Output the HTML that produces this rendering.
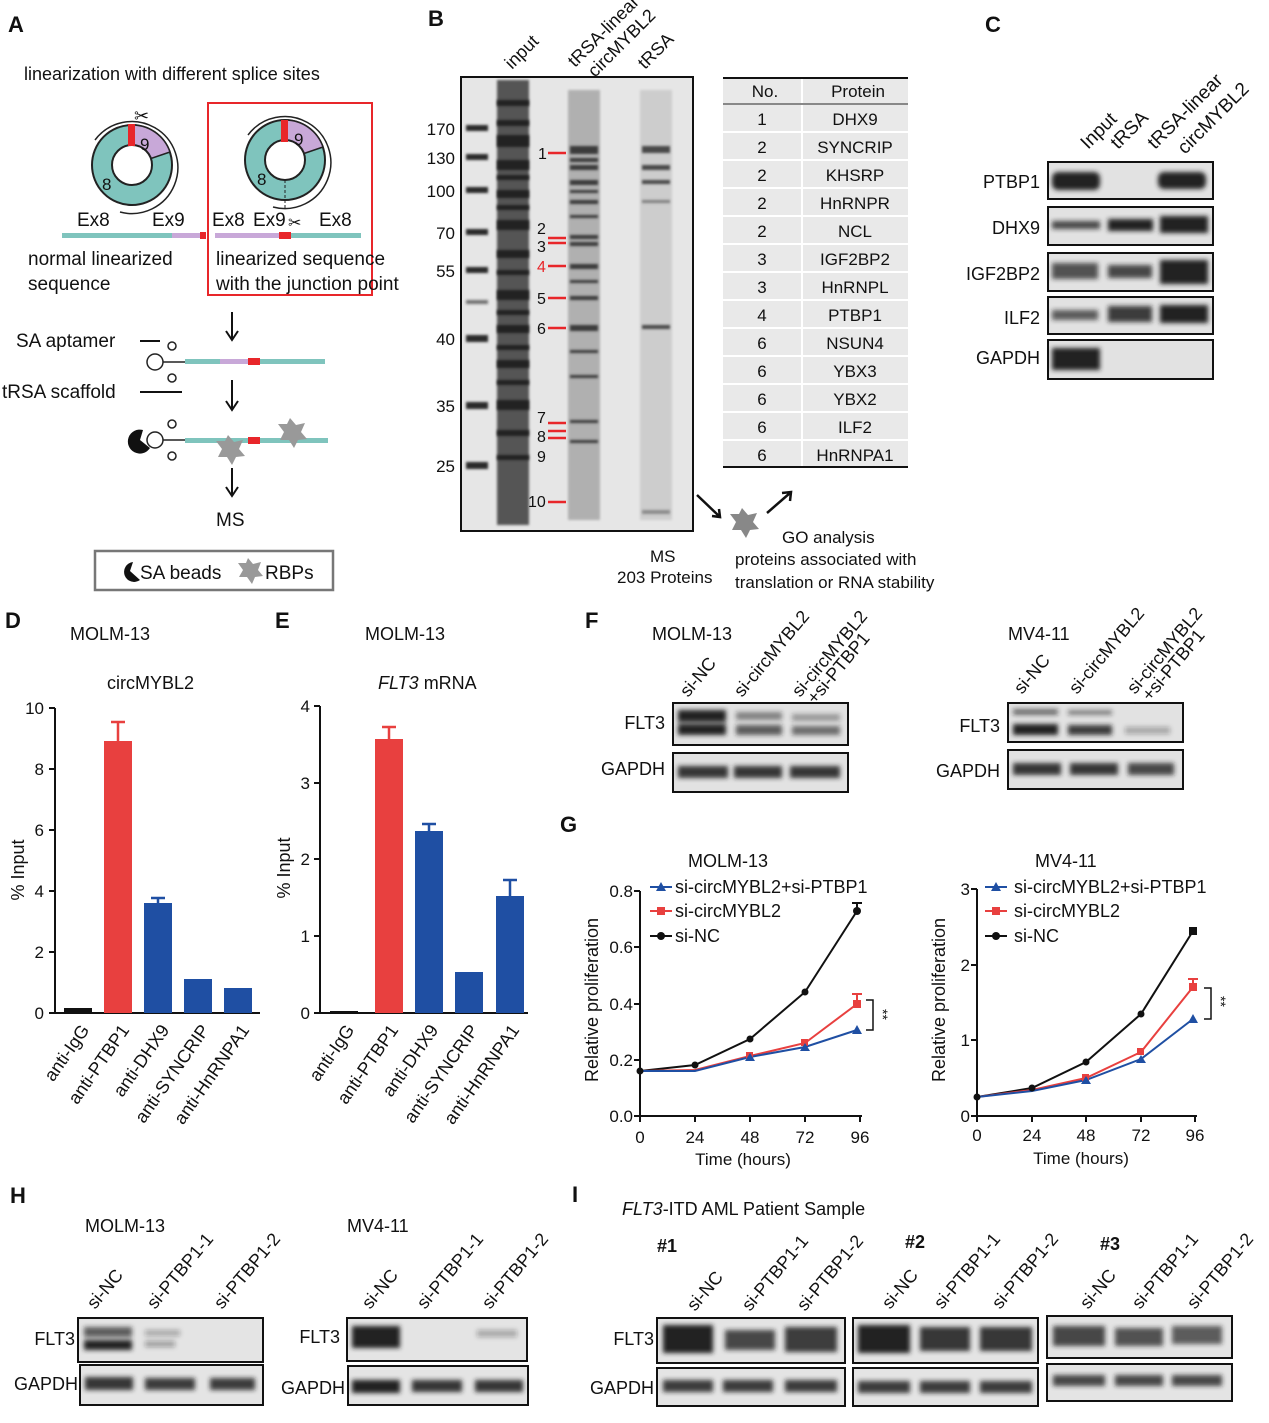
<!DOCTYPE html>
<html><head><meta charset="utf-8"><style>
body{margin:0;background:#fff}
svg{display:block;font-family:"Liberation Sans",Arial,sans-serif}
</style></head><body>
<svg width="1269" height="1423" viewBox="0 0 1269 1423" xmlns="http://www.w3.org/2000/svg">
<defs>
<filter id="bl" x="-20%" y="-50%" width="140%" height="200%"><feGaussianBlur stdDeviation="2.5"/></filter>
<filter id="bl2"><feGaussianBlur stdDeviation="1.2"/></filter>
</defs>
<g font-size="19" fill="#111">
<g font-weight="bold" font-size="22">
<text x="8" y="32">A</text><text x="428" y="26">B</text><text x="985" y="32">C</text>
<text x="5" y="628">D</text><text x="275" y="628">E</text><text x="585" y="628">F</text>
<text x="560" y="832">G</text><text x="10" y="1203">H</text><text x="572" y="1202">I</text>
</g>

<!-- Panel A -->
<text x="24" y="80" font-size="18">linearization with different splice sites</text>
<g>
<circle cx="132" cy="165" r="40" fill="#7fc4bd" stroke="#222" stroke-width="2"/>
<path d="M132 165 L132 125 A40 40 0 0 1 170 152 Z" fill="#c8a8d8" stroke="#222" stroke-width="1.5"/>
<circle cx="132" cy="165" r="20" fill="#fff" stroke="#222" stroke-width="2"/>
<path d="M95 140 A46 46 0 1 1 120 212" fill="none" stroke="#222" stroke-width="1.5"/>
<rect x="128" y="124" width="7" height="22" fill="#e8262a"/>
<text x="140" y="150" font-size="17">9</text><text x="102" y="190" font-size="17">8</text>
<text x="134" y="122" font-size="18">✂</text>
<circle cx="285" cy="160" r="40" fill="#7fc4bd" stroke="#222" stroke-width="2"/>
<path d="M285 160 L285 120 A40 40 0 0 1 323 147 L285 160" fill="#c8a8d8" stroke="#222" stroke-width="1.5"/>
<circle cx="285" cy="160" r="20" fill="#fff" stroke="#222" stroke-width="2"/>
<path d="M248 135 A46 46 0 1 1 273 207" fill="none" stroke="#222" stroke-width="1.5"/>
<rect x="281" y="120" width="7" height="22" fill="#e8262a"/>
<text x="294" y="145" font-size="17">9</text><text x="257" y="185" font-size="17">8</text>
<line x1="285" y1="180" x2="285" y2="210" stroke="#222" stroke-dasharray="3,2"/>
<text x="288" y="228" font-size="16">✂</text>
</g>
<text x="77" y="226">Ex8</text><text x="152" y="226">Ex9</text>
<text x="212" y="226">Ex8</text><text x="253" y="226">Ex9</text><text x="319" y="226">Ex8</text>
<rect x="62" y="233" width="110" height="5" fill="#7fc4bd"/><rect x="172" y="233" width="28" height="5" fill="#c8a8d8"/><rect x="200" y="232" width="6" height="7" fill="#e8262a"/>
<rect x="215" y="233" width="65" height="5" fill="#c8a8d8"/><rect x="279" y="232" width="12" height="7" fill="#e8262a"/><rect x="291" y="233" width="70" height="5" fill="#7fc4bd"/>
<rect x="208" y="103" width="164" height="192" fill="none" stroke="#e8262a" stroke-width="2"/>
<text x="28" y="265">normal linearized</text><text x="28" y="290">sequence</text>
<text x="216" y="265">linearized sequence</text><text x="216" y="290">with the junction point</text>
<path d="M232 312 V338 M226 331 L232 340 L238 331" stroke="#111" stroke-width="2" fill="none"/>
<text x="16" y="347">SA aptamer</text><line x1="140" y1="341" x2="160" y2="341" stroke="#111" stroke-width="2"/>
<text x="2" y="398">tRSA scaffold</text><line x1="140" y1="392" x2="182" y2="392" stroke="#111" stroke-width="2"/>
<g fill="none" stroke="#222" stroke-width="1.5">
<circle cx="155" cy="362" r="8"/><circle cx="172" cy="346" r="4"/><circle cx="172" cy="378" r="4"/><path d="M163 362 H185"/>
<circle cx="155" cy="440" r="8"/><circle cx="172" cy="424" r="4"/><circle cx="172" cy="456" r="4"/><path d="M163 440 H185"/>
</g>
<rect x="185" y="359" width="140" height="5" fill="#7fc4bd"/><rect x="220" y="359" width="28" height="5" fill="#c8a8d8"/><rect x="248" y="358" width="12" height="7" fill="#e8262a"/>
<path d="M232 380 V408 M226 401 L232 410 L238 401" stroke="#111" stroke-width="2" fill="none"/>
<rect x="185" y="438" width="143" height="5" fill="#7fc4bd"/><rect x="248" y="437" width="12" height="7" fill="#e8262a"/>
<path d="M143 430 A12 12 0 1 0 150 448 L140 440 Z" fill="#111"/>
<polygon points="228,435 234,442 243,440 239,449 245,456 236,457 232,465 227,457 218,457 222,449 216,441 225,441" fill="#999"/>
<polygon points="290,418 296,425 305,423 301,432 307,439 298,440 294,448 289,440 280,440 284,432 278,424 287,424" fill="#999"/>
<path d="M232 468 V494 M226 487 L232 496 L238 487" stroke="#111" stroke-width="2" fill="none"/>
<text x="216" y="526">MS</text>
<rect x="95" y="551" width="238" height="39" fill="none" stroke="#777" stroke-width="2.5"/>
<path d="M133 562 A10 10 0 1 0 140 580 L130 571 Z" fill="#111"/>
<text x="140" y="579">SA beads</text>
<polygon points="248,558 253,564 261,562 258,570 263,576 255,577 252,584 247,577 239,577 243,570 238,563 246,563" fill="#999"/>
<text x="265" y="579">RBPs</text>

<!-- Panel B -->
<g font-size="18">
<text transform="translate(512,70) rotate(-45)">input</text>
<text transform="translate(575,68) rotate(-45)">tRSA-linear</text>
<text transform="translate(595,78) rotate(-45)">circMYBL2</text>
<text transform="translate(645,70) rotate(-45)">tRSA</text>
</g>
<rect x="461" y="77" width="232" height="454" fill="#e6e6e6" stroke="#111" stroke-width="2"/>
<g fill="#2a2a2a" filter="url(#bl2)">
<rect x="466" y="125" width="22" height="6"/><rect x="466" y="154" width="22" height="6"/><rect x="466" y="187" width="22" height="6"/>
<rect x="466" y="229" width="22" height="6"/><rect x="466" y="267" width="22" height="6"/><rect x="466" y="335" width="22" height="7"/>
<rect x="466" y="402" width="22" height="7"/><rect x="466" y="462" width="22" height="7"/><rect x="466" y="300" width="22" height="4" opacity=".6"/>
</g>
<rect x="497" y="80" width="32" height="445" fill="#555" filter="url(#bl2)"/>
<g fill="#222" filter="url(#bl2)">
<rect x="497" y="100" width="32" height="6"/><rect x="497" y="120" width="32" height="6"/><rect x="497" y="135" width="32" height="12"/><rect x="497" y="160" width="32" height="10"/><rect x="497" y="175" width="32" height="5"/><rect x="497" y="190" width="32" height="8"/><rect x="497" y="205" width="32" height="5"/><rect x="497" y="220" width="32" height="10"/><rect x="497" y="250" width="32" height="8"/><rect x="497" y="270" width="32" height="5"/><rect x="497" y="290" width="32" height="10"/><rect x="497" y="310" width="32" height="5"/><rect x="497" y="325" width="32" height="8"/><rect x="497" y="345" width="32" height="5"/><rect x="497" y="360" width="32" height="8"/><rect x="497" y="380" width="32" height="5"/><rect x="497" y="400" width="32" height="10"/><rect x="497" y="430" width="32" height="6"/><rect x="497" y="455" width="32" height="5"/>
</g>
<rect x="568" y="90" width="32" height="430" fill="#b0b0b0" filter="url(#bl2)"/>
<g fill="#3a3a3a" filter="url(#bl2)">
<rect x="570" y="146" width="28" height="8"/><rect x="570" y="158" width="28" height="4"/><rect x="570" y="165" width="28" height="5"/><rect x="570" y="180" width="28" height="5"/><rect x="570" y="190" width="28" height="3"/><rect x="570" y="200" width="28" height="4"/><rect x="570" y="215" width="28" height="3"/>
<rect x="570" y="235" width="28" height="4"/><rect x="570" y="242" width="28" height="4"/><rect x="570" y="264" width="28" height="5"/><rect x="570" y="280" width="28" height="3"/><rect x="570" y="296" width="28" height="4"/><rect x="570" y="325" width="28" height="6"/><rect x="570" y="350" width="28" height="3"/><rect x="570" y="375" width="28" height="3"/><rect x="570" y="420" width="28" height="3"/><rect x="570" y="440" width="28" height="3"/>
</g>
<rect x="640" y="90" width="32" height="430" fill="#cdcdcd" filter="url(#bl2)"/>
<g fill="#4a4a4a" filter="url(#bl2)">
<rect x="642" y="146" width="28" height="7"/><rect x="642" y="165" width="28" height="5"/><rect x="642" y="180" width="28" height="4"/><rect x="642" y="200" width="28" height="3" opacity=".6"/><rect x="642" y="325" width="28" height="4"/><rect x="642" y="510" width="28" height="4" opacity=".5"/>
</g>
<g font-size="17" text-anchor="end">
<text x="455" y="135">170</text><text x="455" y="164">130</text><text x="455" y="197">100</text><text x="455" y="239">70</text>
<text x="455" y="277">55</text><text x="455" y="345">40</text><text x="455" y="412">35</text><text x="455" y="472">25</text>
</g>
<g font-size="16"><text x="538" y="159">1</text><text x="537" y="234">2</text><text x="537" y="252">3</text><text x="537" y="272" fill="#e8262a">4</text>
<text x="537" y="304">5</text><text x="537" y="334">6</text><text x="537" y="423">7</text><text x="537" y="442">8</text><text x="537" y="462">9</text><text x="528" y="507">10</text></g>
<g stroke="#e8262a" stroke-width="2.5"><path d="M548 153 H566 M548 238 H566 M548 243 H566 M548 266 H566 M548 298 H566 M548 328 H566 M548 423 H566 M548 431 H566 M548 438 H566 M548 502 H566"/></g>
<rect x="723" y="78" width="185" height="389" fill="#e9e9e9"/>
<g stroke="#fff" stroke-width="2"><line x1="802" y1="78" x2="802" y2="467"/>
<path d="M723 104H908M723 132H908M723 160H908M723 188H908M723 216H908M723 244H908M723 272H908M723 300H908M723 328H908M723 356H908M723 384H908M723 412H908M723 440H908"/></g>
<line x1="723" y1="78" x2="908" y2="78" stroke="#111" stroke-width="2"/><line x1="723" y1="104" x2="908" y2="104" stroke="#111" stroke-width="1"/><line x1="723" y1="467" x2="908" y2="467" stroke="#111" stroke-width="2"/>
<g font-size="17" text-anchor="middle">
<text x="765" y="97">No.</text><text x="858" y="97">Protein</text>
<text x="762" y="125">1</text><text x="855" y="125">DHX9</text>
<text x="762" y="153">2</text><text x="855" y="153">SYNCRIP</text>
<text x="762" y="181">2</text><text x="855" y="181">KHSRP</text>
<text x="762" y="209">2</text><text x="855" y="209">HnRNPR</text>
<text x="762" y="237">2</text><text x="855" y="237">NCL</text>
<text x="762" y="265">3</text><text x="855" y="265">IGF2BP2</text>
<text x="762" y="293">3</text><text x="855" y="293">HnRNPL</text>
<text x="762" y="321">4</text><text x="855" y="321">PTBP1</text>
<text x="762" y="349">6</text><text x="855" y="349">NSUN4</text>
<text x="762" y="377">6</text><text x="855" y="377">YBX3</text>
<text x="762" y="405">6</text><text x="855" y="405">YBX2</text>
<text x="762" y="433">6</text><text x="855" y="433">ILF2</text>
<text x="762" y="461">6</text><text x="855" y="461">HnRNPA1</text>
</g>
<path d="M697 495 L720 517 M712 516 L720 517 L719 509" stroke="#111" stroke-width="2.5" fill="none"/>
<path d="M767 513 L790 493 M782 493 L791 492 L790 501" stroke="#111" stroke-width="2.5" fill="none"/>
<polygon points="742,508 748,515 757,513 753,522 759,529 750,530 746,538 741,530 732,530 736,522 730,514 739,514" fill="#888"/>
<g font-size="17"><text x="650" y="562">MS</text><text x="617" y="583">203 Proteins</text>
<text x="782" y="543">GO analysis</text><text x="735" y="565">proteins associated with</text><text x="735" y="588">translation or RNA stability</text></g>

<!-- Panel C -->
<g font-size="19">
<text transform="translate(1088,150) rotate(-45)">Input</text>
<text transform="translate(1118,150) rotate(-45)">tRSA</text>
<text transform="translate(1155,150) rotate(-45)">tRSA-linear</text>
<text transform="translate(1185,155) rotate(-45)">circMYBL2</text>
</g>
<g font-size="18" text-anchor="end"><text x="1040" y="188">PTBP1</text><text x="1040" y="234">DHX9</text><text x="1040" y="280">IGF2BP2</text><text x="1040" y="324">ILF2</text><text x="1040" y="364">GAPDH</text></g>
<g stroke="#111" stroke-width="2" fill="#e2e2e2">
<rect x="1048" y="162" width="165" height="37"/><rect x="1048" y="207" width="165" height="38"/><rect x="1048" y="253" width="165" height="38"/><rect x="1048" y="297" width="165" height="37"/><rect x="1048" y="340" width="165" height="39"/>
</g>
<g fill="#222" filter="url(#bl)">
<rect x="1052" y="172" width="48" height="18" rx="6"/><rect x="1158" y="172" width="48" height="17" rx="6"/>
<rect x="1052" y="221" width="48" height="8" opacity=".8"/><rect x="1108" y="219" width="45" height="12"/><rect x="1160" y="216" width="48" height="17"/>
<rect x="1052" y="263" width="46" height="16" opacity=".75"/><rect x="1108" y="265" width="44" height="13" opacity=".8"/><rect x="1160" y="260" width="48" height="24"/>
<rect x="1052" y="310" width="46" height="10" opacity=".7"/><rect x="1108" y="306" width="44" height="16" opacity=".85"/><rect x="1160" y="305" width="48" height="18"/>
<rect x="1052" y="348" width="48" height="22"/>
</g>

<!-- Panel D -->
<text x="70" y="640" font-size="18">MOLM-13</text>
<text x="107" y="689" font-size="18">circMYBL2</text>
<g stroke="#111" stroke-width="2" fill="none"><path d="M55 708 V1013 H260"/>
<path d="M49 708H55M49 769H55M49 830H55M49 891H55M49 952H55M49 1013H55"/></g>
<g font-size="17" text-anchor="end"><text x="44" y="714">10</text><text x="44" y="775">8</text><text x="44" y="836">6</text><text x="44" y="897">4</text><text x="44" y="958">2</text><text x="44" y="1019">0</text></g>
<text transform="translate(24,870) rotate(-90)" text-anchor="middle" font-size="18">% Input</text>
<rect x="64" y="1008" width="28" height="5" fill="#111"/>
<rect x="104" y="741" width="28" height="272" fill="#e8403f"/><path d="M118 741V722M111 722H125" stroke="#e8403f" stroke-width="2.5"/>
<rect x="144" y="903" width="28" height="110" fill="#1f4fa3"/><path d="M158 903V898M151 898H165" stroke="#1f4fa3" stroke-width="2.5"/>
<rect x="184" y="979" width="28" height="34" fill="#1f4fa3"/>
<rect x="224" y="988" width="28" height="25" fill="#1f4fa3"/>
<g font-size="18" text-anchor="end">
<text transform="translate(90,1030) rotate(-55)">anti-IgG</text>
<text transform="translate(130,1030) rotate(-55)">anti-PTBP1</text>
<text transform="translate(170,1030) rotate(-55)">anti-DHX9</text>
<text transform="translate(210,1030) rotate(-55)">anti-SYNCRIP</text>
<text transform="translate(250,1030) rotate(-55)">anti-HnRNPA1</text>
</g>

<!-- Panel E -->
<text x="365" y="640" font-size="18">MOLM-13</text>
<text x="378" y="689" font-size="18"><tspan font-style="italic">FLT3</tspan> mRNA</text>
<g stroke="#111" stroke-width="2" fill="none"><path d="M320 706 V1013 H528"/>
<path d="M314 706H320M314 783H320M314 859H320M314 936H320M314 1013H320"/></g>
<g font-size="17" text-anchor="end"><text x="310" y="712">4</text><text x="310" y="789">3</text><text x="310" y="865">2</text><text x="310" y="942">1</text><text x="310" y="1019">0</text></g>
<text transform="translate(290,868) rotate(-90)" text-anchor="middle" font-size="18">% Input</text>
<rect x="330" y="1011" width="28" height="2" fill="#111"/>
<rect x="375" y="739" width="28" height="274" fill="#e8403f"/><path d="M389 739V727M382 727H396" stroke="#e8403f" stroke-width="2.5"/>
<rect x="415" y="831" width="28" height="182" fill="#1f4fa3"/><path d="M429 831V824M422 824H436" stroke="#1f4fa3" stroke-width="2.5"/>
<rect x="455" y="972" width="28" height="41" fill="#1f4fa3"/>
<rect x="496" y="896" width="28" height="117" fill="#1f4fa3"/><path d="M510 896V880M503 880H517" stroke="#1f4fa3" stroke-width="2.5"/>
<g font-size="18" text-anchor="end">
<text transform="translate(355,1030) rotate(-55)">anti-IgG</text>
<text transform="translate(399,1030) rotate(-55)">anti-PTBP1</text>
<text transform="translate(439,1030) rotate(-55)">anti-DHX9</text>
<text transform="translate(479,1030) rotate(-55)">anti-SYNCRIP</text>
<text transform="translate(520,1030) rotate(-55)">anti-HnRNPA1</text>
</g>

<!-- Panel F -->
<text x="652" y="640" font-size="18">MOLM-13</text><text x="1008" y="640" font-size="18">MV4-11</text>
<g font-size="18">
<text transform="translate(688,698) rotate(-50)">si-NC</text>
<text transform="translate(742,698) rotate(-50)">si-circMYBL2</text>
<text transform="translate(800,698) rotate(-50)">si-circMYBL2</text>
<text transform="translate(815,705) rotate(-50)">+si-PTBP1</text>
<text transform="translate(1022,695) rotate(-50)">si-NC</text>
<text transform="translate(1077,695) rotate(-50)">si-circMYBL2</text>
<text transform="translate(1135,695) rotate(-50)">si-circMYBL2</text>
<text transform="translate(1150,702) rotate(-50)">+si-PTBP1</text>
</g>
<g font-size="18" text-anchor="end"><text x="665" y="729">FLT3</text><text x="665" y="775">GAPDH</text><text x="1000" y="732">FLT3</text><text x="1000" y="777">GAPDH</text></g>
<g stroke="#111" stroke-width="2" fill="#e2e2e2">
<rect x="673" y="703" width="175" height="42"/><rect x="673" y="753" width="175" height="39"/>
<rect x="1008" y="703" width="175" height="39"/><rect x="1008" y="750" width="175" height="39"/>
</g>
<g fill="#222" filter="url(#bl)">
<rect x="678" y="710" width="48" height="12"/><rect x="678" y="724" width="48" height="11"/>
<rect x="736" y="712" width="46" height="8" opacity=".5"/><rect x="736" y="725" width="46" height="10" opacity=".7"/>
<rect x="792" y="714" width="48" height="7" opacity=".4"/><rect x="792" y="726" width="48" height="9" opacity=".6"/>
<rect x="678" y="766" width="50" height="12" opacity=".9"/><rect x="734" y="766" width="48" height="12" opacity=".9"/><rect x="790" y="766" width="50" height="12" opacity=".9"/>
<rect x="1013" y="709" width="45" height="6" opacity=".6"/><rect x="1013" y="724" width="45" height="11"/>
<rect x="1068" y="710" width="44" height="5" opacity=".5"/><rect x="1068" y="725" width="44" height="10" opacity=".85"/>
<rect x="1125" y="727" width="45" height="7" opacity=".3"/>
<rect x="1013" y="763" width="48" height="12" opacity=".9"/><rect x="1070" y="763" width="48" height="12" opacity=".9"/><rect x="1128" y="763" width="46" height="12" opacity=".8"/>
</g>

<!-- Panel G MOLM-13 -->
<text x="688" y="867" font-size="18">MOLM-13</text>
<g stroke="#111" stroke-width="2" fill="none"><path d="M640 891 V1116 H862"/>
<path d="M634 891H640M634 947H640M634 1004H640M634 1060H640M634 1116H640M640 1116V1122M695 1116V1122M750 1116V1122M805 1116V1122M860 1116V1122"/></g>
<g font-size="17" text-anchor="end"><text x="633" y="897">0.8</text><text x="633" y="953">0.6</text><text x="633" y="1010">0.4</text><text x="633" y="1066">0.2</text><text x="633" y="1122">0.0</text></g>
<g font-size="17" text-anchor="middle"><text x="640" y="1143">0</text><text x="695" y="1143">24</text><text x="750" y="1143">48</text><text x="805" y="1143">72</text><text x="860" y="1143">96</text><text x="743" y="1165">Time (hours)</text></g>
<text transform="translate(598,1000) rotate(-90)" text-anchor="middle" font-size="18">Relative proliferation</text>
<polyline points="640,1071 695,1065 750,1039 805,992 857,911" fill="none" stroke="#111" stroke-width="2"/>
<polyline points="640,1071 695,1070 750,1056 805,1043 857,1004" fill="none" stroke="#e8403f" stroke-width="2"/>
<polyline points="640,1071 695,1071 750,1057 805,1047 857,1030" fill="none" stroke="#1f4fa3" stroke-width="2"/>
<g fill="#111"><circle cx="640" cy="1071" r="3.5"/><circle cx="695" cy="1065" r="3.5"/><circle cx="750" cy="1039" r="3.5"/><circle cx="805" cy="992" r="3.5"/><circle cx="857" cy="911" r="4"/></g>
<path d="M857 911V903M852 903H862" stroke="#111" stroke-width="2"/>
<g fill="#e8403f"><rect x="853" y="1000" width="8" height="8"/><rect x="801" y="1039" width="7" height="7"/><rect x="746" y="1052" width="7" height="7"/></g>
<path d="M857 1004V994M852 994H862" stroke="#e8403f" stroke-width="2"/>
<g fill="#1f4fa3"><polygon points="857,1025 862,1034 852,1034"/><polygon points="805,1043 810,1051 800,1051"/><polygon points="750,1053 755,1061 745,1061"/></g>
<path d="M866 1000H873V1030H866" stroke="#111" stroke-width="1.5" fill="none"/><text transform="translate(878,1009) rotate(90)" font-size="14">**</text>
<g font-size="18">
<line x1="650" y1="887" x2="672" y2="887" stroke="#1f4fa3" stroke-width="2"/><polygon points="661,882 666,891 656,891" fill="#1f4fa3"/><text x="675" y="893">si-circMYBL2+si-PTBP1</text>
<line x1="650" y1="911" x2="672" y2="911" stroke="#e8403f" stroke-width="2"/><rect x="657" y="907" width="8" height="8" fill="#e8403f"/><text x="675" y="917">si-circMYBL2</text>
<line x1="650" y1="936" x2="672" y2="936" stroke="#111" stroke-width="2"/><circle cx="661" cy="936" r="4" fill="#111"/><text x="675" y="942">si-NC</text>
</g>

<!-- Panel G MV4-11 -->
<text x="1035" y="867" font-size="18">MV4-11</text>
<g stroke="#111" stroke-width="2" fill="none"><path d="M977 889 V1116 H1197"/>
<path d="M971 889H977M971 965H977M971 1040H977M971 1116H977M977 1116V1122M1032 1116V1122M1086 1116V1122M1141 1116V1122M1195 1116V1122"/></g>
<g font-size="17" text-anchor="end"><text x="970" y="895">3</text><text x="970" y="971">2</text><text x="970" y="1046">1</text><text x="970" y="1122">0</text></g>
<g font-size="17" text-anchor="middle"><text x="977" y="1141">0</text><text x="1032" y="1141">24</text><text x="1086" y="1141">48</text><text x="1141" y="1141">72</text><text x="1195" y="1141">96</text><text x="1081" y="1164">Time (hours)</text></g>
<text transform="translate(945,1000) rotate(-90)" text-anchor="middle" font-size="18">Relative proliferation</text>
<polyline points="977,1097 1032,1088 1086,1062 1141,1014 1193,931" fill="none" stroke="#111" stroke-width="2"/>
<polyline points="977,1097 1032,1090 1086,1078 1141,1052 1193,987" fill="none" stroke="#e8403f" stroke-width="2"/>
<polyline points="977,1097 1032,1091 1086,1080 1141,1059 1193,1019" fill="none" stroke="#1f4fa3" stroke-width="2"/>
<g fill="#111"><circle cx="977" cy="1097" r="3.5"/><circle cx="1032" cy="1088" r="3.5"/><circle cx="1086" cy="1062" r="3.5"/><circle cx="1141" cy="1014" r="3.5"/><rect x="1189" y="927" width="8" height="8"/></g>
<g fill="#e8403f"><rect x="1189" y="983" width="8" height="8"/><rect x="1137" y="1048" width="7" height="7"/><rect x="1082" y="1074" width="7" height="7"/></g>
<path d="M1193 987V979M1188 979H1198" stroke="#e8403f" stroke-width="2"/>
<g fill="#1f4fa3"><polygon points="1193,1014 1198,1023 1188,1023"/><polygon points="1141,1055 1146,1063 1136,1063"/><polygon points="1086,1076 1091,1084 1081,1084"/></g>
<path d="M1204 988H1211V1019H1204" stroke="#111" stroke-width="1.5" fill="none"/><text transform="translate(1216,996) rotate(90)" font-size="14">**</text>
<g font-size="18">
<line x1="985" y1="887" x2="1007" y2="887" stroke="#1f4fa3" stroke-width="2"/><polygon points="996,882 1001,891 991,891" fill="#1f4fa3"/><text x="1014" y="893">si-circMYBL2+si-PTBP1</text>
<line x1="985" y1="911" x2="1007" y2="911" stroke="#e8403f" stroke-width="2"/><rect x="992" y="907" width="8" height="8" fill="#e8403f"/><text x="1014" y="917">si-circMYBL2</text>
<line x1="985" y1="936" x2="1007" y2="936" stroke="#111" stroke-width="2"/><circle cx="996" cy="936" r="4" fill="#111"/><text x="1014" y="942">si-NC</text>
</g>

<!-- Panel H -->
<text x="85" y="1232" font-size="18">MOLM-13</text><text x="347" y="1232" font-size="18">MV4-11</text>
<g font-size="18">
<text transform="translate(95,1310) rotate(-50)">si-NC</text>
<text transform="translate(155,1310) rotate(-50)">si-PTBP1-1</text>
<text transform="translate(222,1310) rotate(-50)">si-PTBP1-2</text>
<text transform="translate(370,1310) rotate(-50)">si-NC</text>
<text transform="translate(425,1310) rotate(-50)">si-PTBP1-1</text>
<text transform="translate(490,1310) rotate(-50)">si-PTBP1-2</text>
</g>
<g font-size="18" text-anchor="end"><text x="75" y="1345">FLT3</text><text x="78" y="1390">GAPDH</text><text x="340" y="1343">FLT3</text><text x="345" y="1394">GAPDH</text></g>
<g stroke="#111" stroke-width="2" fill="#e4e4e4">
<rect x="78" y="1318" width="185" height="44"/><rect x="80" y="1365" width="183" height="40"/>
<rect x="347" y="1318" width="180" height="43"/><rect x="348" y="1366" width="180" height="39"/>
</g>
<g fill="#222" filter="url(#bl)">
<rect x="84" y="1327" width="48" height="10" opacity=".7"/><rect x="84" y="1340" width="48" height="10"/>
<rect x="145" y="1330" width="35" height="6" opacity=".3"/><rect x="145" y="1341" width="30" height="6" opacity=".35"/>
<rect x="85" y="1377" width="48" height="13" opacity=".9"/><rect x="145" y="1378" width="50" height="12" opacity=".85"/><rect x="210" y="1378" width="45" height="12" opacity=".85"/>
<rect x="352" y="1326" width="48" height="22"/><rect x="477" y="1330" width="40" height="7" opacity=".3"/>
<rect x="352" y="1380" width="48" height="13"/><rect x="412" y="1380" width="50" height="12" opacity=".9"/><rect x="475" y="1380" width="48" height="12" opacity=".9"/>
</g>

<!-- Panel I -->
<text x="622" y="1215" font-size="18"><tspan font-style="italic">FLT3</tspan>-ITD AML Patient Sample</text>
<g font-size="18" font-weight="bold"><text x="657" y="1252">#1</text><text x="905" y="1248">#2</text><text x="1100" y="1250">#3</text></g>
<g font-size="18">
<text transform="translate(695,1312) rotate(-50)">si-NC</text>
<text transform="translate(750,1312) rotate(-50)">si-PTBP1-1</text>
<text transform="translate(805,1312) rotate(-50)">si-PTBP1-2</text>
<text transform="translate(890,1310) rotate(-50)">si-NC</text>
<text transform="translate(942,1310) rotate(-50)">si-PTBP1-1</text>
<text transform="translate(1000,1310) rotate(-50)">si-PTBP1-2</text>
<text transform="translate(1088,1310) rotate(-50)">si-NC</text>
<text transform="translate(1140,1310) rotate(-50)">si-PTBP1-1</text>
<text transform="translate(1195,1310) rotate(-50)">si-PTBP1-2</text>
</g>
<g font-size="18" text-anchor="end"><text x="654" y="1345">FLT3</text><text x="654" y="1394">GAPDH</text></g>
<g stroke="#111" stroke-width="2" fill="#e4e4e4">
<rect x="657" y="1318" width="188" height="45"/><rect x="657" y="1368" width="188" height="38"/>
<rect x="853" y="1318" width="185" height="45"/><rect x="853" y="1368" width="185" height="38"/>
<rect x="1047" y="1316" width="185" height="42"/><rect x="1047" y="1364" width="185" height="37"/>
</g>
<g fill="#222" filter="url(#bl)">
<rect x="663" y="1325" width="50" height="28"/><rect x="725" y="1330" width="50" height="20" opacity=".8"/><rect x="785" y="1327" width="52" height="25" opacity=".85"/>
<rect x="663" y="1380" width="50" height="12" opacity=".85"/><rect x="723" y="1380" width="50" height="12" opacity=".85"/><rect x="785" y="1380" width="52" height="12" opacity=".85"/>
<rect x="858" y="1325" width="52" height="28"/><rect x="920" y="1327" width="50" height="24" opacity=".9"/><rect x="980" y="1327" width="52" height="24" opacity=".9"/>
<rect x="858" y="1381" width="52" height="12" opacity=".85"/><rect x="920" y="1381" width="50" height="12" opacity=".85"/><rect x="980" y="1381" width="52" height="12" opacity=".85"/>
<rect x="1053" y="1326" width="52" height="20" opacity=".8"/><rect x="1115" y="1328" width="48" height="18" opacity=".75"/><rect x="1172" y="1326" width="50" height="18" opacity=".7"/>
<rect x="1053" y="1375" width="52" height="11" opacity=".8"/><rect x="1115" y="1375" width="48" height="11" opacity=".8"/><rect x="1172" y="1375" width="50" height="11" opacity=".8"/>
</g>
</g>
</svg>
</body></html>
